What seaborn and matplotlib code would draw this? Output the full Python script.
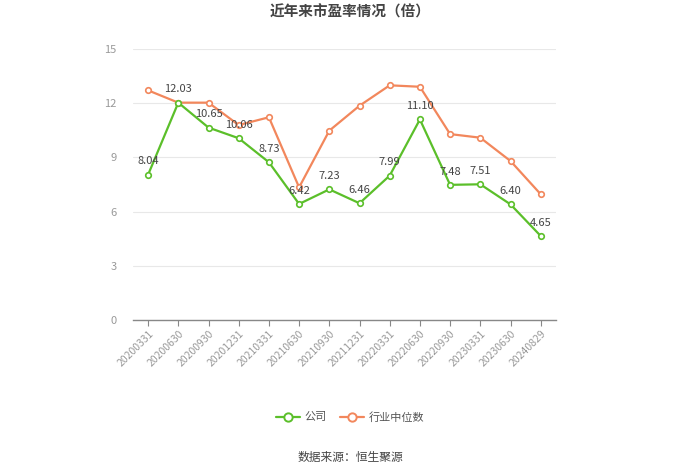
import matplotlib
matplotlib.use("Agg")
import matplotlib.pyplot as plt
import seaborn as sns
import pandas as pd
from matplotlib.lines import Line2D

dates = ["20200331", "20200630", "20200930", "20201231", "20210331", "20210630", "20210930",
         "20211231", "20220331", "20220630", "20220930", "20230331", "20230630", "20240829"]
company = [8.04, 12.03, 10.65, 10.06, 8.73, 6.42, 7.23, 6.46, 7.99, 11.10, 7.48, 7.51, 6.40, 4.65]
industry = [12.71, 12.03, 12.03, 10.79, 11.22, 7.34, 10.48, 11.86, 12.99, 12.91, 10.29, 10.09, 8.80, 6.96]
series_names = ["公司", "行业中位数"]
colors = ["#5bbf2a", "#f2875c"]

sns.set_theme(style="white")
plt.rcParams['font.family'] = ['Noto Sans CJK SC', 'DejaVu Sans']

df = pd.DataFrame({
    "date": dates * 2,
    "value": company + industry,
    "series": [series_names[0]] * len(dates) + [series_names[1]] * len(dates),
})

fig = plt.figure(figsize=(7, 4.74), dpi=100)
ax = fig.add_axes([0.19, 0.325, 0.604, 0.5716])

sns.lineplot(data=df, x="date", y="value", hue="series", palette=colors, ax=ax,
             marker="o", markersize=4, markerfacecolor="white", markeredgewidth=1.2,
             linewidth=1.6, legend=False, sort=False)
# marker edge colors per series
for line, c in zip(ax.get_lines(), colors):
    line.set_markeredgecolor(c)
    line.set_markerfacecolor("white")

# draw company on top
ax.get_lines()[0].set_zorder(4)
ax.get_lines()[1].set_zorder(3)

ax.set_xlim(-0.5, len(dates) - 0.5)
ax.set_ylim(0, 15)
ax.set_yticks([0, 3, 6, 9, 12, 15])
ax.set_xlabel("")
ax.set_ylabel("")
ax.grid(axis="y", color="#e8e8e8", linewidth=0.8)
ax.set_axisbelow(True)
for s in ["top", "right", "left"]:
    ax.spines[s].set_visible(False)
ax.spines["bottom"].set_color("#888888")
ax.spines["bottom"].set_linewidth(1.0)

ax.set_xticks(range(len(dates)))
ax.set_xticklabels(dates, rotation=45, ha="right", rotation_mode="anchor",
                   fontsize=7.5, color="#999999")
ax.tick_params(axis="x", length=4, width=0.8, color="#888888", pad=2, bottom=True)
ax.tick_params(axis="y", length=0, labelsize=8, labelcolor="#999999", pad=12)

for i, v in enumerate(company):
    ax.annotate(f"{v:.2f}", (i, v), xytext=(0, 6), textcoords="offset points",
                ha="center", va="bottom", fontsize=8, color="#444444", zorder=6)

fig.text(0.5, 0.975, "近年来市盈率情况（倍）", ha="center", va="center",
         fontsize=10.5, fontweight="bold", color="#444444")

handles = [Line2D([0], [0], color=c, marker="o", markersize=6, markerfacecolor="white",
                  markeredgewidth=1.4, linewidth=1.6) for c in colors]
leg = fig.legend(handles, series_names, loc="center", bbox_to_anchor=(0.5, 0.12),
                 ncol=2, frameon=False, fontsize=8, handlelength=2.2,
                 columnspacing=1.2, handletextpad=0.4)
for t in leg.get_texts():
    t.set_color("#555555")

fig.text(0.5, 0.035, "数据来源：恒生聚源", ha="center", va="center",
         fontsize=8.5, color="#444444")

fig.savefig("out.png", dpi=100)
